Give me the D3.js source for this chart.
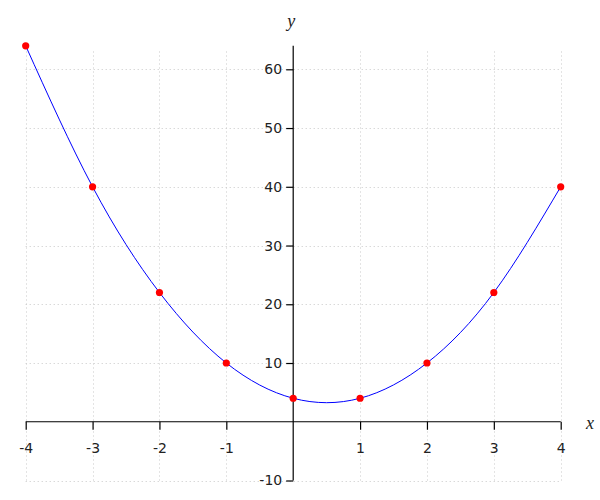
<!DOCTYPE html>
<html><head><meta charset="utf-8">
<script src="https://cdn.jsdelivr.net/npm/d3@7"></script>
<style>body{margin:0;background:#fff}</style>
</head><body>
<svg id="c" width="600" height="500"></svg>
<script>
const xValues = [-4, -3, -2, -1, 0, 1, 2, 3, 4];
const yValues = [64, 40, 22, 10, 4, 4, 10, 22, 40];
const xTicks = [-4, -3, -2, -1, 1, 2, 3, 4];
const yTicks = [-10, 10, 20, 30, 40, 50, 60];

const svg = d3.select("#c");
const x = d3.scaleLinear().domain([-4, 4]).range([25.7, 560.7]);
const y = d3.scaleLinear().domain([-10, 64]).range([480.5, 45.8]);
const font = "'DejaVu Sans', sans-serif";

// grid
const grid = svg.append("g").attr("stroke", "#c8c8c8").attr("stroke-width", 1).attr("stroke-dasharray", "1,3");
grid.selectAll("line.v").data(xTicks).join("line")
  .attr("x1", d => Math.round(x(d)) + 0.5).attr("x2", d => Math.round(x(d)) + 0.5)
  .attr("y1", y(-10)).attr("y2", y(63.5));
grid.selectAll("line.h").data(yTicks).join("line")
  .attr("y1", d => Math.round(y(d)) + 0.5).attr("y2", d => Math.round(y(d)) + 0.5)
  .attr("x1", x(-4)).attr("x2", x(4));

// axes
const xAxis = svg.append("g").attr("transform", `translate(0,${y(0)})`)
  .call(d3.axisBottom(x).tickValues(xTicks).tickSize(8).tickPadding(13).tickFormat(d3.format("d")).tickSizeOuter(0));
const yAxis = svg.append("g").attr("transform", `translate(${x(0)},0)`)
  .call(d3.axisLeft(y).tickValues(yTicks).tickSize(7).tickPadding(4).tickFormat(d3.format("d")).tickSizeOuter(0));
[xAxis, yAxis].forEach(a => {
  a.selectAll("path.domain").attr("stroke", "#000").attr("stroke-width", 1.2);
  a.selectAll(".tick line").attr("stroke", "#000").attr("stroke-width", 1.2);
  a.selectAll("text").attr("font-family", font).attr("font-size", 14).attr("fill", "#222");
});
xAxis.select("path.domain").attr("d", `M${x(-4)},0H${x(4)}`);
yAxis.select("path.domain").attr("d", `M0,${y(-10)}V${y(64)}`);
xAxis.selectAll(".tick text").text(d => String(d).replace("−", "-"));
yAxis.selectAll(".tick text").text(d => String(d).replace("−", "-"));

// axis labels
svg.append("text").attr("x", x(0) - 2).attr("y", 27).attr("text-anchor", "middle")
  .attr("font-family", "'Liberation Serif', serif").attr("font-style", "italic").attr("font-size", 18).attr("fill", "#222").text("y");
svg.append("text").attr("x", 590).attr("y", 429).attr("text-anchor", "middle")
  .attr("font-family", "'Liberation Serif', serif").attr("font-style", "italic").attr("font-size", 18).attr("fill", "#222").text("x");

// curve
const pts = xValues.map((d, i) => [d, yValues[i]]);
const line = d3.line().x(d => x(d[0])).y(d => y(d[1])).curve(d3.curveNatural);
svg.append("path").datum(pts).attr("d", line).attr("fill", "none").attr("stroke", "#0000ff").attr("stroke-width", 1);

// points
svg.selectAll("circle.pt").data(pts).join("circle")
  .attr("cx", d => x(d[0])).attr("cy", d => y(d[1])).attr("r", 3.6).attr("fill", "#ff0000");
</script>
</body></html>
